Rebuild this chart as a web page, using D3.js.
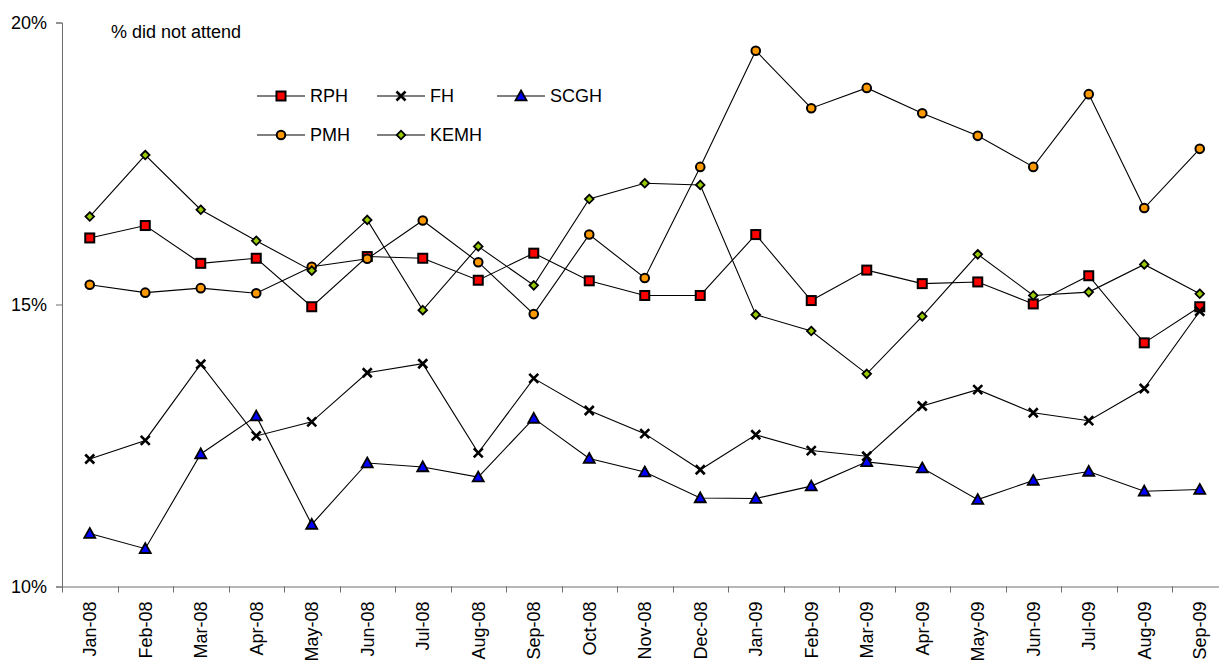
<!DOCTYPE html>
<html>
<head>
<meta charset="utf-8">
<script src="https://cdn.jsdelivr.net/npm/d3@7"></script>
<style>
  html, body { margin: 0; padding: 0; background: #fff; }
  svg { display: block; font-family: "Liberation Sans", Arial, sans-serif; }
</style>
</head>
<body>
<svg id="chart" width="1219" height="661"></svg>
<script>
const months = ["Jan-08","Feb-08","Mar-08","Apr-08","May-08","Jun-08","Jul-08","Aug-08","Sep-08","Oct-08","Nov-08","Dec-08","Jan-09","Feb-09","Mar-09","Apr-09","May-09","Jun-09","Jul-09","Aug-09","Sep-09"];
const rph  = [16.18,16.40,15.73,15.82,14.96,15.85,15.82,15.43,15.91,15.42,15.16,15.16,16.24,15.07,15.61,15.37,15.40,15.01,15.51,14.32,14.96];
const fh   = [12.26,12.59,13.94,12.67,12.92,13.79,13.95,12.37,13.69,13.12,12.71,12.07,12.69,12.41,12.31,13.20,13.49,13.08,12.94,13.51,14.88];
const scgh = [10.94,10.67,12.35,13.02,11.10,12.19,12.12,11.94,12.98,12.27,12.03,11.57,11.56,11.78,12.21,12.10,11.54,11.88,12.04,11.69,11.72];
const pmh  = [15.35,15.21,15.29,15.20,15.67,15.81,16.49,15.75,14.83,16.24,15.47,17.44,19.50,18.48,18.84,18.39,17.99,17.44,18.73,16.71,17.76];
const kemh = [16.56,17.65,16.68,16.13,15.60,16.50,14.90,16.03,15.34,16.87,17.15,17.12,14.82,14.53,13.77,14.79,15.89,15.16,15.22,15.71,15.19];
const yTicks = [0.10, 0.15, 0.20];
const titleText = "% did not attend";

const series = [
  {name: "RPH",  values: rph,  marker: "square",   fill: "#FF0000"},
  {name: "FH",   values: fh,   marker: "x",        fill: "none"},
  {name: "SCGH", values: scgh, marker: "triangle", fill: "#0000FF"},
  {name: "PMH",  values: pmh,  marker: "circle",   fill: "#FF9900"},
  {name: "KEMH", values: kemh, marker: "diamond",  fill: "#99CC00"}
];

const svg = d3.select("#chart");
const mLeft = 62, mRight = 1227.5, mTop = 22.5, mBottom = 586.5;

const x = d3.scaleBand().domain(months).range([mLeft, mRight]).padding(0);
const y = d3.scaleLinear().domain([0.10, 0.20]).range([mBottom, mTop]);
const cx = d => x(d) + x.bandwidth() / 2;

const axisColor = "#6e6e6e";

// Y axis
const yAxis = svg.append("g")
  .attr("transform", `translate(${mLeft},0)`)
  .call(d3.axisLeft(y).tickValues(yTicks).tickFormat(d3.format(".0%")).tickSize(6).tickPadding(9));
yAxis.select(".domain").attr("stroke", axisColor);
yAxis.selectAll(".tick line").attr("stroke", axisColor);
yAxis.selectAll("text").attr("font-size", 18).attr("fill", "#000")
  .attr("font-family", "Liberation Sans, Arial, sans-serif");

// X axis (labels at category centres, tick marks at category boundaries)
const xAxis = svg.append("g")
  .attr("transform", `translate(0,${mBottom})`)
  .call(d3.axisBottom(x).tickSize(0).tickPadding(0));
xAxis.select(".domain").attr("stroke", axisColor);
xAxis.selectAll(".tick text")
  .attr("font-size", 18).attr("fill", "#000")
  .attr("font-family", "Liberation Sans, Arial, sans-serif")
  .attr("transform", "rotate(-90)")
  .attr("x", -15).attr("y", 0).attr("dy", "0.36em")
  .style("text-anchor", "end");
const boundaries = months.map(m => x(m)).concat([x(months[months.length - 1]) + x.bandwidth()]);
xAxis.selectAll("line.bnd").data(boundaries).enter().append("line")
  .attr("class", "bnd")
  .attr("x1", d => Math.round(d) + 0.5).attr("x2", d => Math.round(d) + 0.5)
  .attr("y1", 0).attr("y2", 6)
  .attr("stroke", axisColor);

// Title
svg.append("text").attr("x", 111).attr("y", 38).attr("font-size", 18).attr("fill", "#000").text(titleText);

// Marker drawing
function drawMarker(g, type, fill) {
  if (type === "square") {
    g.append("rect").attr("x", -4.5).attr("y", -4.5).attr("width", 9).attr("height", 9)
      .attr("fill", fill).attr("stroke", "#000").attr("stroke-width", 2);
  } else if (type === "circle") {
    g.append("circle").attr("r", 4.3).attr("fill", fill).attr("stroke", "#000").attr("stroke-width", 2);
  } else if (type === "diamond") {
    g.append("path").attr("d", "M0,-4.3L4.3,0L0,4.3L-4.3,0Z")
      .attr("fill", fill).attr("stroke", "#000").attr("stroke-width", 1.8);
  } else if (type === "triangle") {
    g.append("path").attr("d", "M0,-5.5L5.5,4.3L-5.5,4.3Z")
      .attr("fill", fill).attr("stroke", "#000").attr("stroke-width", 1.8).attr("stroke-linejoin", "miter");
  } else if (type === "x") {
    g.append("path").attr("d", "M-4.5,-4.5L4.5,4.5M-4.5,4.5L4.5,-4.5")
      .attr("fill", "none").attr("stroke", "#000").attr("stroke-width", 2.6);
  }
}

const line = d3.line().x((d, i) => cx(months[i])).y(d => y(d / 100));

// Series
series.forEach(s => {
  const g = svg.append("g");
  g.append("path").datum(s.values).attr("d", line)
    .attr("fill", "none").attr("stroke", "#000").attr("stroke-width", 1.1);
  s.values.forEach((v, i) => {
    const mg = g.append("g").attr("transform", `translate(${cx(months[i])},${y(v / 100)})`);
    drawMarker(mg, s.marker, s.fill);
  });
});

// Legend
const legendPos = [
  {x: 257, y: 96}, {x: 377, y: 96}, {x: 497, y: 96},
  {x: 257, y: 135}, {x: 377, y: 135}
];
series.forEach((s, i) => {
  const p = legendPos[i];
  const g = svg.append("g").attr("transform", `translate(${p.x},${p.y})`);
  g.append("line").attr("x1", 0).attr("x2", 48).attr("y1", 0).attr("y2", 0)
    .attr("stroke", "#000").attr("stroke-width", 1.1);
  const mg = g.append("g").attr("transform", "translate(24,0)");
  drawMarker(mg, s.marker, s.fill);
  g.append("text").attr("x", 53).attr("y", 0).attr("dy", "0.35em")
    .attr("font-size", 18).attr("fill", "#000").text(s.name);
});
</script>
</body>
</html>
